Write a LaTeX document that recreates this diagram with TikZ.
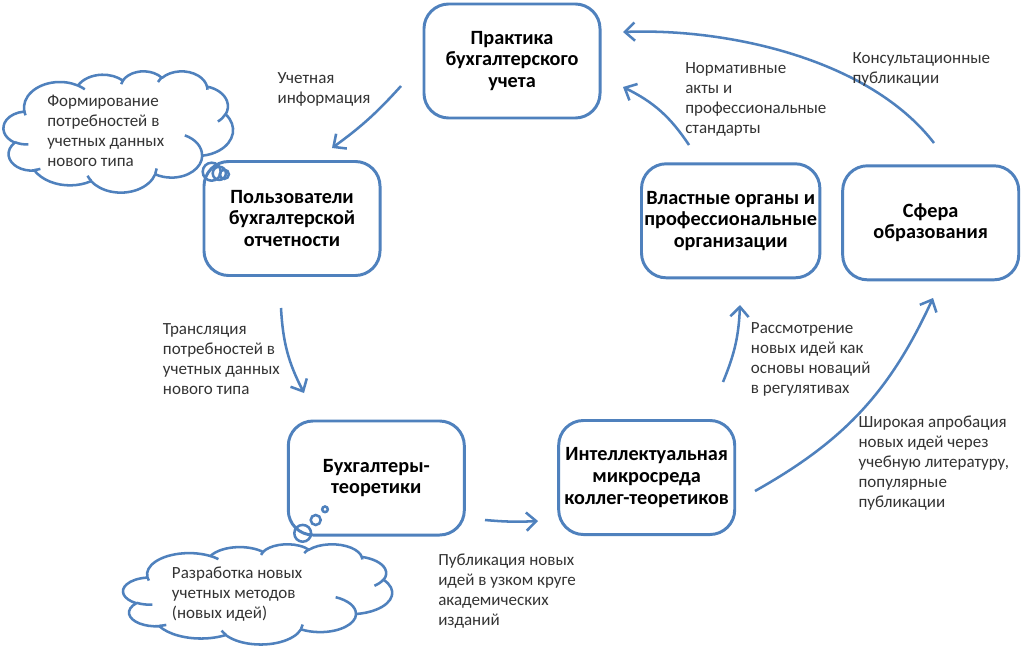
\documentclass[tikz,border=0pt]{standalone}
\usepackage{fontspec}
\setmainfont{Carlito}
\usetikzlibrary{arrows.meta}
\definecolor{lineblue}{HTML}{4F81BD}
\definecolor{txtgray}{HTML}{333333}
% arc with OOXML-style (visual) angles: #1 start, #2 sweep, #3 x radius, #4 y radius
\newcommand{\va}[4]{arc[x radius=#3, y radius=#4,
  start angle={atan2(#3*sin(#1),#4*cos(#1))},
  delta angle={mod(atan2(#3*sin(#1+#2),#4*cos(#1+#2))-atan2(#3*sin(#1),#4*cos(#1))+720,360)}]}
\newcommand{\cloudoutline}{%
  (390,1437)
  \va{-190.4875}{123.7805}{675.3}{919.0}
  \va{-144.1024}{89.9452}{533.3}{726.7}
  \va{-145.8079}{99.7230}{436.5}{594.5}
  \va{-130.9861}{117.2417}{485.7}{659.5}
  \va{-78.7089}{109.0269}{533.3}{727.3}
  \va{-46.2673}{130.2690}{677.5}{922.0}
  \va{0.6250}{114.0333}{578.5}{786.7}
  \va{22.4516}{115.1726}{675.2}{921.5}
  \va{66.2426}{75.7110}{772.0}{1054.3}
  \va{-274.9421}{146.7356}{436.0}{591.8}
  \va{-246.8285}{152.5189}{434.5}{594.5}
  -- cycle}
\newcommand{\cloudinner}{%
  (469.3,2617.7) \va{86.742}{26.430}{434.5}{594.5}
  (692.8,3489.9) \va{73.610}{11.447}{436.0}{591.8}
  (1647.8,3909.0) \va{137.624}{14.081}{675.2}{921.5}
  (2882.7,3475.1) \va{6.453}{15.998}{675.2}{921.5}
  (3412.9,2295.4) \va{-70.292}{70.917}{578.5}{786.7}
  (4179.8,1535.4) \va{30.318}{27.752}{533.3}{727.3}
  (3832.4,542.6) \va{-13.744}{14.859}{485.7}{659.5}
  (2907.8,395.2) \va{-149.181}{18.195}{485.7}{659.5}
  (2214.1,472.0) \va{-163.494}{17.686}{436.5}{594.5}
  (1400.0,519.2) \va{-66.707}{12.319}{675.3}{919.0}
  (412.7,1578.9) \va{157.654}{11.858}{675.3}{919.0}}
\begin{document}
\begin{tikzpicture}[x=0.025cm,y=-0.025cm,
  boxnode/.style={draw=lineblue,line width=2.1pt,rounded corners=0.62cm,fill=white,
    minimum width=4.4cm,minimum height=2.85cm,align=center,inner sep=2pt,
    font=\fontsize{14.4}{15.4}\selectfont\bfseries,text=black},
  lbl/.style={anchor=north west,align=left,inner sep=0pt,
    font=\fontsize{12.1}{14.2}\selectfont,text=txtgray},
  cloudline/.style={draw=lineblue,line width=1.8pt,line join=round},
  bubble/.style={circle,draw=lineblue,line width=1.8pt,inner sep=0pt},
  arr/.style={draw=lineblue,line width=1.8pt,
    -{Straight Barb[length=7pt,width=13pt,line width=1.8pt]}},
]
\useasboundingbox (0,0) rectangle (1024,651);
\fill[white] (0,0) rectangle (1024,651);

% boxes
\node[boxnode] (prak) at (512,61) {Практика\\бухгалтерского\\учета};
\node[boxnode] (polz) at (292,218.5) {Пользователи\\бухгалтерской\\отчетности};
\node[boxnode] (vlast) at (730.7,220.8) {Властные органы и\\профессиональные\\организации};
\node[boxnode] (sfera) at (930.7,222.8) {Сфера\\образования};
\node[boxnode] (buh) at (376.3,478) {Бухгалтеры-\\теоретики};
\node[boxnode] (intel) at (646.7,477.5) {Интеллектуальная\\микросреда\\коллег-теоретиков};

% cloud 1
\begin{scope}[shift={(3.573,70.94)},x=0.0013308cm,y=-0.00070275cm]
  \draw[cloudline,fill=white] \cloudoutline;
  \draw[cloudline] \cloudinner;
\end{scope}
\node[bubble,minimum size=0.45cm] (bA1) at (211.7,171.7) {};
\node[bubble,minimum size=0.33cm] (bA2) at (219.3,173.3) {};
\node[bubble,minimum size=0.23cm] (bA3) at (224.3,174.3) {};

% cloud 2
\begin{scope}[shift={(123.17,543.95)},x=0.0015536cm,y=-0.000579cm]
  \draw[cloudline,fill=white] \cloudoutline;
  \draw[cloudline] \cloudinner;
\end{scope}
\node[bubble,minimum size=0.42cm] (bB1) at (302.7,533.3) {};
\node[bubble,minimum size=0.25cm] (bB2) at (315.7,520) {};
\node[bubble,minimum size=0.14cm] (bB3) at (325,509.3) {};

% cloud texts
\node[lbl] (tA) at (47,95) {Формирование\\потребностей в\\учетных данных\\нового типа};
\node[lbl] (tB) at (171.7,567) {Разработка новых\\учетных методов\\(новых идей)};

% connector anchors
\coordinate (a1s) at (401,86);   \coordinate (a1e) at (332,148);
\coordinate (a2s) at (281,308);  \coordinate (a2e) at (304,393);
\coordinate (a3s) at (485,520);  \coordinate (a3e) at (538,521);
\coordinate (a4s) at (723,382);  \coordinate (a4e) at (740,305);
\coordinate (a5s) at (755,491);  \coordinate (a5e) at (933,298);
\coordinate (a6s) at (689,145);  \coordinate (a6e) at (623,87);
\coordinate (a7s) at (934,143);  \coordinate (a7e) at (623,32);

\draw[arr] (a1s) to[bend left=6] (a1e);
\draw[arr] (a2s) to[bend right=12] (a2e);
\draw[arr] (a3s) to[bend right=4] (a3e);
\draw[arr] (a4s) to[bend right=10] (a4e);
\draw[arr] (a5s) to[bend right=18] (a5e);
\draw[arr] (a6s) to[bend right=15] (a6e);
\draw[arr] (a7s) .. controls (870,60) and (730,28) .. (a7e);

% labels
\node[lbl] (l1) at (277.3,72) {Учетная\\информация};
\node[lbl] (l2) at (162.7,323) {Трансляция\\потребностей в\\учетных данных\\нового типа};
\node[lbl] (l3) at (438,554) {Публикация новых\\идей в узком круге\\академических\\изданий};
\node[lbl] (l4) at (750.7,322) {Рассмотрение\\новых идей как\\основы новаций\\в регулятивах};
\node[lbl] (l5) at (858.3,415.5) {Широкая апробация\\новых идей через\\учебную литературу,\\популярные\\публикации};
\node[lbl] (l6) at (685,62) {Нормативные\\акты и\\профессиональные\\стандарты};
\node[lbl] (l7) at (852.3,52) {Консультационные\\публикации};
\end{tikzpicture}
\end{document}
